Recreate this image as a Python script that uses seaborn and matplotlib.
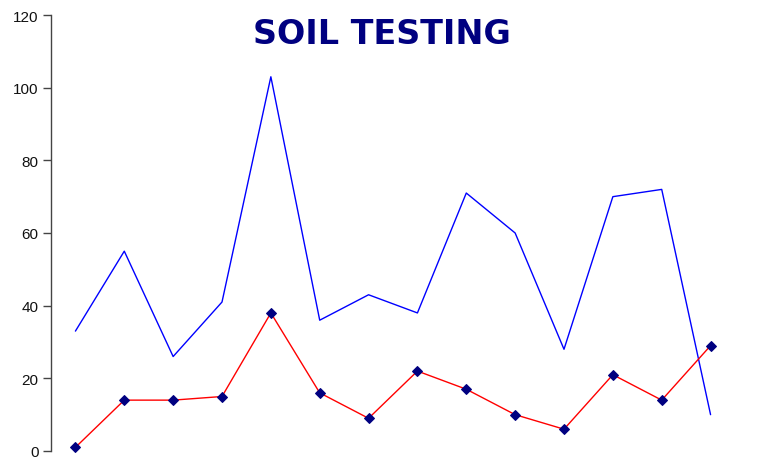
import pandas as pd
import numpy as np
import seaborn as sns
import matplotlib.pyplot as plt

# soil test readings, 14 samples
samples = list(range(1, 15))
upper = [33, 55, 26, 41, 103, 36, 43, 38, 71, 60, 28, 70, 72, 10]
lower = [1, 14, 14, 15, 38, 16, 9, 22, 17, 10, 6, 21, 14, 29]

df = pd.DataFrame({'Sample': samples, 'Upper': upper, 'Lower': lower})

sns.set_style('white')
plt.rcParams['font.family'] = ['Liberation Sans', 'DejaVu Sans']

fig = plt.figure(figsize=(7.66, 4.6), dpi=100)
ax = fig.add_axes([51 / 766, 1 - 452 / 460, (735 - 51) / 766, (452 - 16) / 460])

sns.lineplot(x='Sample', y='Upper', data=df, color='#0000FF', linewidth=1, ax=ax)
sns.lineplot(x='Sample', y='Lower', data=df, color='#FF0000', linewidth=1,
             marker='D', markersize=5.5, markerfacecolor='#000080',
             markeredgecolor='#000080', ax=ax)

ax.set_xlim(0.5, 14.5)
ax.set_ylim(0, 120)
ax.set_yticks(np.arange(0, 121, 20))
ax.set_xticks([])
ax.set_xlabel('')
ax.set_ylabel('')
ax.tick_params(axis='y', direction='out', length=6, width=1, color='#444444',
               labelsize=11, labelcolor='#111111', pad=3, left=True)
for s in ['top', 'right', 'bottom']:
    ax.spines[s].set_visible(False)
ax.spines['left'].set_color('#444444')
ax.spines['left'].set_linewidth(1)
for line in ax.lines:
    line.set_clip_on(False)

fig.text(382 / 766, 1 - 35 / 460, 'SOIL TESTING', color='#000080',
         fontsize=24, fontweight='bold', ha='center', va='center',
         family=['DejaVu Sans'])

fig.savefig('out.png', dpi=100)
